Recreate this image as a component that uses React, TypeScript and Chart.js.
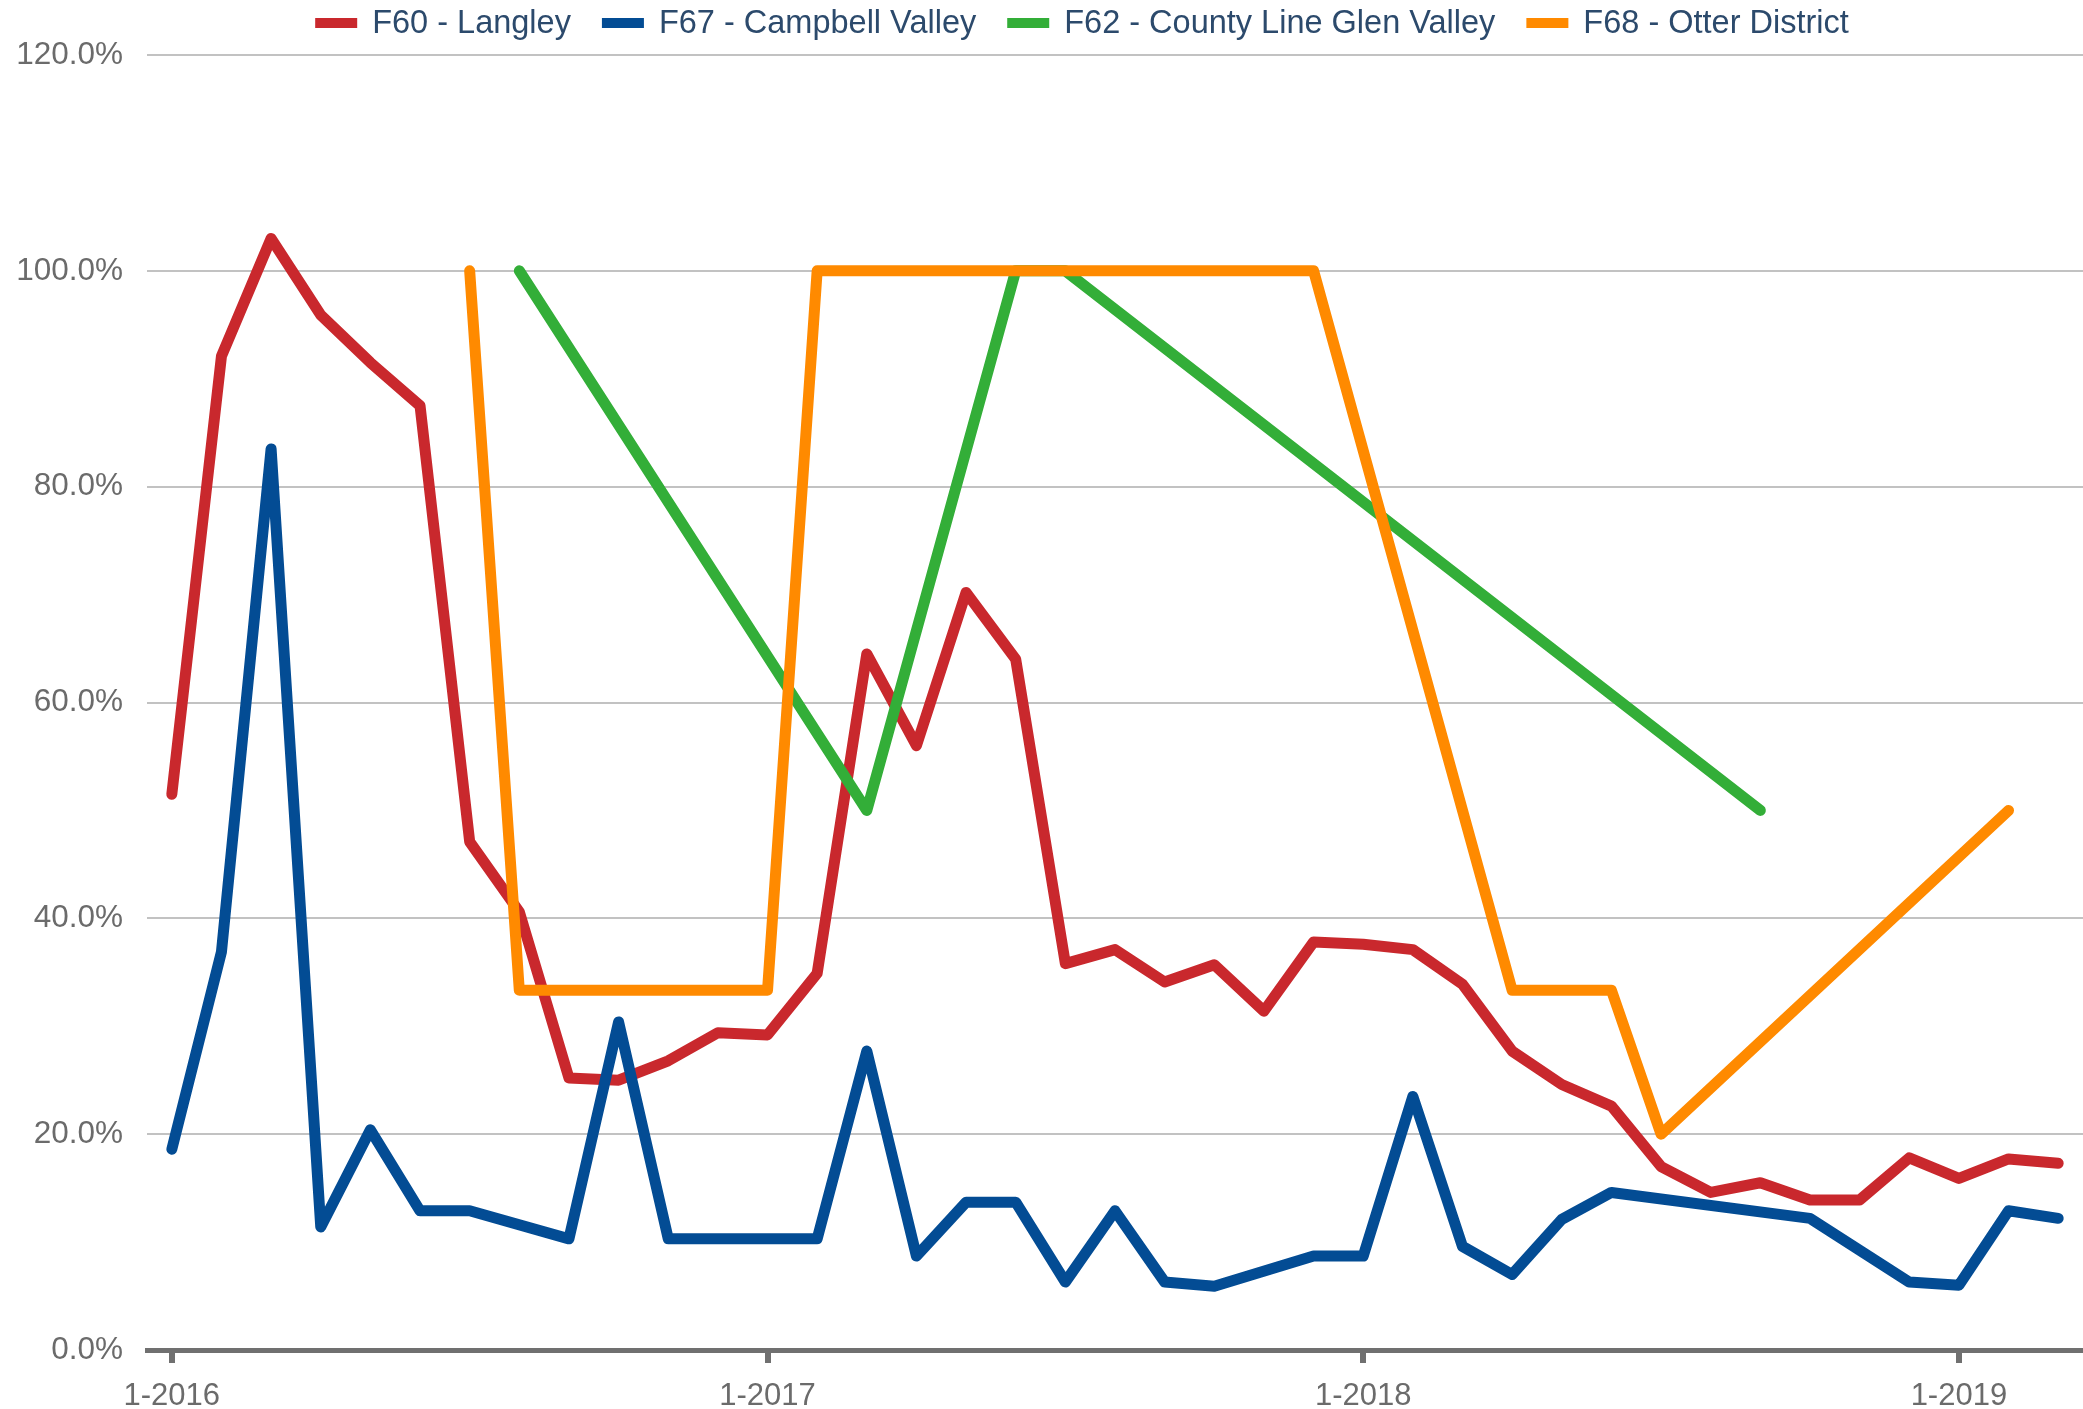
import React, { useEffect, useRef } from "react";
import { Chart, registerables } from "chart.js";

Chart.register(...registerables);

const YEARS = [2016, 2017, 2018, 2019];
const months: string[] = [];
for (const y of YEARS) {
  for (let m = 1; m <= 12; m++) {
    if (y === 2019 && m > 3) break;
    months.push(`${m}-${y}`);
  }
}

const seriesNames = [
  "F60 - Langley",
  "F67 - Campbell Valley",
  "F62 - County Line Glen Valley",
  "F68 - Otter District",
];
const seriesColors = ["#c9282d", "#034c94", "#33ae38", "#ff8a00"];

const langley: (number | null)[] = [
  51.5, 92.1, 103.0, 95.9, 91.5, 87.5, 47.1, 40.6, 25.2, 25.0, 26.8, 29.4,
  29.2, 34.9, 64.5, 56.0, 70.2, 64.0, 35.8, 37.1, 34.1, 35.7, 31.4, 37.8,
  37.6, 37.1, 33.9, 27.7, 24.6, 22.6, 17.0, 14.6, 15.5, 13.9, 13.9, 17.8,
  15.9, 17.7, 17.3,
];
const campbell: (number | null)[] = [
  18.6, 36.9, 83.5, 11.4, 20.4, 12.9, 12.9, null, 10.3, 30.4, 10.3, 10.3,
  10.3, 10.3, 27.7, 8.7, 13.7, 13.7, 6.3, 12.9, 6.3, 5.9, null, 8.7,
  8.7, 23.5, 9.6, 7.0, 12.1, 14.6, null, null, null, 12.2, null, 6.3,
  6.0, 12.9, 12.2,
];
const countyLine: (number | null)[] = [
  null, null, null, null, null, null, null, 100, null, null, null, null,
  null, null, 50, null, null, 100, 100, null, null, null, null, null,
  null, null, null, null, null, null, null, null, 50, null, null, null,
  null, null, null,
];
const otter: (number | null)[] = [
  null, null, null, null, null, null, 100, 33.33, null, null, null, null,
  33.33, 100, null, null, null, null, null, null, null, null, null, 100,
  null, null, null, 33.33, null, 33.33, 20, null, null, null, null, null,
  null, 50, null,
];

const yMin = 0;
const yMax = 120;
const yStep = 20;

const FONT = '"Liberation Sans", Arial, Helvetica, sans-serif';

const legendPlugin = {
  id: "customLegend",
  afterDraw(chart: any) {
    const ctx = chart.ctx as CanvasRenderingContext2D;
    const fontSize = 32.5;
    const boxW = 42;
    const boxH = 10;
    const gap = 31;
    const centerX = 1082;
    const cy = 23;
    ctx.save();
    ctx.font = `${fontSize}px ${FONT}`;
    const items = chart.data.datasets.map((d: any) => {
      const tw = ctx.measureText(d.label).width;
      return { label: d.label, color: d.borderColor, w: boxW + 15 + tw };
    });
    const total = items.reduce((s: number, it: any) => s + it.w, 0) + gap * (items.length - 1);
    let x = centerX - total / 2;
    ctx.textBaseline = "middle";
    ctx.textAlign = "left";
    for (const it of items) {
      ctx.fillStyle = it.color;
      ctx.fillRect(x, cy - boxH / 2, boxW, boxH);
      ctx.fillStyle = "#2c4a6c";
      ctx.fillText(it.label, x + boxW + 15, cy + 1);
      x += it.w + gap;
    }
    ctx.restore();
  },
};

export default function App() {
  const canvasRef = useRef<HTMLCanvasElement | null>(null);

  useEffect(() => {
    document.body.style.margin = "0";
    document.body.style.overflow = "hidden";
    const canvas = canvasRef.current;
    if (!canvas) return;
    const allData = [langley, campbell, countyLine, otter];
    const chart = new Chart(canvas, {
      type: "line",
      data: {
        labels: months,
        datasets: allData.map((d, i) => ({
          label: seriesNames[i],
          data: d,
          borderColor: seriesColors[i],
          backgroundColor: seriesColors[i],
          borderWidth: 11,
          pointRadius: 0,
          pointHoverRadius: 0,
          tension: 0,
          spanGaps: true,
          fill: false,
          borderCapStyle: "round" as const,
          borderJoinStyle: "round" as const,
          order: 4 - i,
        })),
      },
      options: {
        responsive: false,
        animation: false,
        font: { family: FONT, size: 31 },
        layout: { padding: { top: 55, right: 0, left: 0, bottom: 0 } },
        plugins: {
          legend: { display: false },
          tooltip: { enabled: false },
          title: { display: false },
        },
        scales: {
          x: {
            type: "category",
            offset: true,
            afterFit: (s: any) => {
              s.height = 59;
            },
            border: { display: true, color: "#707070", width: 5 },
            grid: {
              display: true,
              offset: false,
              drawOnChartArea: false,
              drawTicks: true,
              tickLength: 13,
              lineWidth: 6,
              color: (c: any) =>
                c.index !== undefined && months[c.index] && months[c.index].startsWith("1-")
                  ? "#707070"
                  : "rgba(0,0,0,0)",
            },
            ticks: {
              autoSkip: false,
              maxRotation: 0,
              minRotation: 0,
              padding: 15,
              color: "#6b6b6b",
              font: { family: FONT, size: 31 },
              callback: (_v: any, i: number) => (months[i].startsWith("1-") ? months[i] : ""),
            },
          },
          y: {
            min: yMin,
            max: yMax,
            afterFit: (s: any) => {
              s.width = 147;
            },
            border: { display: false },
            grid: {
              color: "#c2c2c2",
              lineWidth: 2,
              drawTicks: false,
            },
            ticks: {
              stepSize: yStep,
              padding: 24,
              color: "#6b6b6b",
              font: { family: FONT, size: 31.5 },
              callback: (v: any) => Number(v).toFixed(1) + "%",
            },
          },
        },
      },
      plugins: [legendPlugin],
    });
    return () => chart.destroy();
  }, []);

  return (
    <div style={{ width: 2083, height: 1409, background: "#fff" }}>
      <canvas ref={canvasRef} width={2083} height={1409} style={{ display: "block" }} />
    </div>
  );
}
